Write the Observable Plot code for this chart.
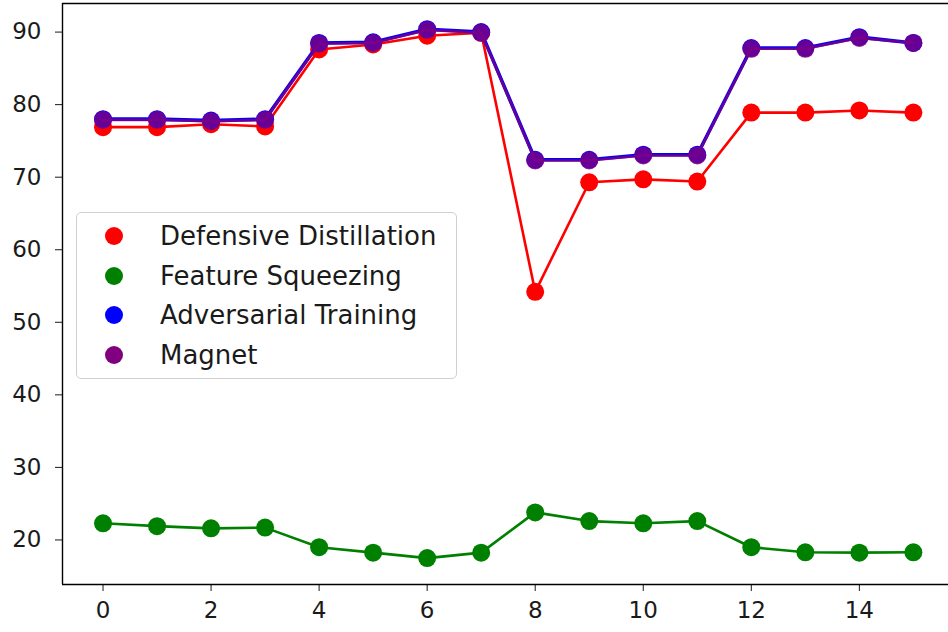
<!DOCTYPE html>
<html>
<head>
<meta charset="utf-8">
<script src="https://cdn.jsdelivr.net/npm/d3@7"></script>
<script src="https://cdn.jsdelivr.net/npm/@observablehq/plot@0.6"></script>
<style>
  html, body { margin: 0; padding: 0; background: #fff; }
  #wrap { position: relative; width: 948px; height: 632px; overflow: hidden; }
  #legend {
    position: absolute; left: 76px; top: 212px; width: 381px; height: 167px;
    border: 1px solid #d0d0d0; border-radius: 5px; background: rgba(255,255,255,0.8);
    box-sizing: border-box; font-family: "DejaVu Sans", sans-serif; font-size: 26px; color: #1a1a1a;
  }
  .row { position: absolute; left: 0; height: 30px; display: flex; align-items: center; }
  .sw { position: absolute; left: 28px; width: 18px; height: 18px; border-radius: 50%; }
  .lab { position: absolute; left: 83px; white-space: nowrap; line-height: 30px; }
</style>
</head>
<body>
<div id="wrap"></div>
<script>
const xs = [0,1,2,3,4,5,6,7,8,9,10,11,12,13,14,15];
const seriesNames = ["Defensive Distillation", "Feature Squeezing", "Adversarial Training", "Magnet"];
const seriesColors = ["#ff0000", "#008000", "#0000ff", "#800080"];
const defensiveDistillation = [76.9, 76.9, 77.3, 77.0, 87.6, 88.3, 89.5, 89.9, 54.2, 69.3, 69.7, 69.4, 78.9, 78.9, 79.2, 78.9];
const featureSqueezing = [22.3, 21.9, 21.6, 21.7, 19.0, 18.25, 17.5, 18.25, 23.8, 22.6, 22.3, 22.6, 19.0, 18.3, 18.25, 18.3];
const adversarialTraining = [78.0, 78.0, 77.8, 78.0, 88.5, 88.6, 90.4, 90.0, 72.4, 72.4, 73.1, 73.1, 87.8, 87.8, 89.3, 88.5];
const magnet = [77.9, 77.9, 77.7, 77.9, 88.4, 88.5, 90.3, 89.9, 72.3, 72.3, 73.0, 73.0, 87.7, 87.7, 89.2, 88.5];
const yTicks = [20, 30, 40, 50, 60, 70, 80, 90];
const xTicks = [0, 2, 4, 6, 8, 10, 12, 14];
const xLimits = [-0.75, 15.65];
const yLimits = [13.86, 93.94];

const allValues = [defensiveDistillation, featureSqueezing, adversarialTraining, magnet];
const rows = [];
allValues.forEach((vals, i) => vals.forEach((v, j) => rows.push({x: xs[j], y: v, s: seriesNames[i], k: i})));

const marks = [];
seriesNames.forEach((name, i) => {
  const d = rows.filter(r => r.k === i);
  const op = i === 3 ? 0.8 : 1;
  const sw = i === 2 ? 3.6 : 2.6;
  marks.push(Plot.line(d, {x: "x", y: "y", stroke: seriesColors[i], strokeWidth: sw, strokeOpacity: op}));
  marks.push(Plot.dot(d, {x: "x", y: "y", r: 9, fill: seriesColors[i], fillOpacity: op, stroke: "none"}));
});

const chart = Plot.plot({
  width: 948,
  height: 632,
  marginLeft: 62,
  marginRight: 0,
  marginTop: 3,
  marginBottom: 48,
  style: {fontFamily: "DejaVu Sans, sans-serif", fontSize: "23px", color: "#1a1a1a", background: "#fff"},
  x: {domain: xLimits, ticks: xTicks, tickSize: 7, tickPadding: 10, label: null},
  y: {domain: yLimits, ticks: yTicks, tickSize: 7, tickPadding: 14, label: null},
  marks: [
    ...marks,
    Plot.ruleX([xLimits[0]], {stroke: "#000", strokeWidth: 1.4}),
    Plot.ruleY([yLimits[0]], {stroke: "#000", strokeWidth: 1.4}),
    Plot.ruleY([yLimits[1]], {stroke: "#000", strokeWidth: 1.4})
  ]
});
const wrap = document.getElementById("wrap");
wrap.appendChild(chart);

const legend = document.createElement("div");
legend.id = "legend";
seriesNames.forEach((name, i) => {
  const row = document.createElement("div");
  row.className = "row";
  row.style.top = (8 + i * 39.7) + "px";
  row.innerHTML = `<span class="sw" style="background:${seriesColors[i]}"></span><span class="lab">${name}</span>`;
  legend.appendChild(row);
});
wrap.appendChild(legend);
</script>
</body>
</html>
